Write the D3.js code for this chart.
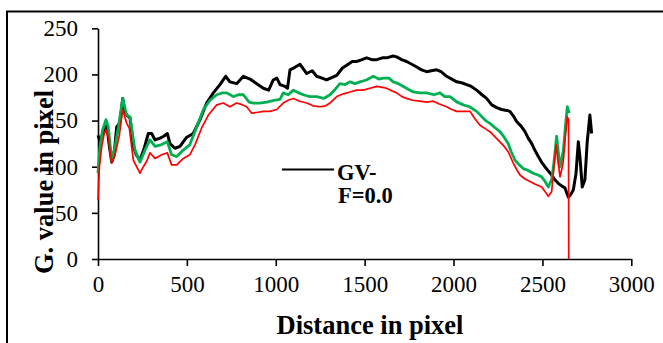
<!DOCTYPE html>
<html><head><meta charset="utf-8">
<script src="https://cdn.jsdelivr.net/npm/d3@7"></script>
<style>body{margin:0;background:#fff}svg{display:block}</style>
</head><body>
<script>
const xTicks = [0,500,1000,1500,2000,2500,3000];
const yTicks = [0,50,100,150,200,250];
const legendLabel = ["GV-","F=0.0"];
const xTitle = "Distance in pixel";
const yTitle = "G. value in pixel";

const blackSeries = [[0,134],[10,128],[21,133],[35,140],[50,145],[62,125],[77,105],[90,112],[105,143],[124,148],[139,174],[150,160],[161,156],[180,153],[199,122],[215,113],[236,107],[260,120],[283,136],[302,136],[321,129],[349,131],[370,133],[390,136],[405,125],[433,120],[461,122],[499,132],[536,136],[574,151],[611,169],[649,180],[686,189],[718,198],[742,192],[780,190],[818,198],[855,195],[893,190],[930,185],[960,183],[986,194],[1006,196],[1024,189],[1052,187],[1066,185],[1080,205],[1110,208],[1137,211],[1174,201],[1205,204],[1230,198],[1260,196],[1286,194],[1343,199],[1375,207],[1399,210],[1430,214],[1455,214],[1485,216],[1511,218],[1540,216],[1568,216],[1600,218],[1624,218],[1660,220],[1680,219],[1708,216],[1736,214],[1765,211],[1793,208],[1820,205],[1849,203],[1875,204],[1905,205],[1930,203],[1961,198],[1990,195],[2018,192],[2045,191],[2074,189],[2100,187],[2130,183],[2160,178],[2186,174],[2215,167],[2243,164],[2270,162],[2300,161],[2317,160],[2340,154],[2355,149],[2380,144],[2402,138],[2420,131],[2440,125],[2460,117],[2477,111],[2495,105],[2514,100],[2535,95],[2552,91],[2570,86],[2589,82],[2610,79],[2627,77],[2640,70],[2646,67],[2660,70],[2674,75],[2689,93],[2702,127],[2711,111],[2724,78],[2739,86],[2752,127],[2767,156],[2777,136]];

const greenSeries = [[0,93],[10,120],[26,140],[45,151],[58,143],[77,107],[96,122],[115,143],[139,174],[161,156],[180,154],[208,118],[236,105],[264,118],[292,129],[321,122],[358,124],[390,127],[414,113],[443,111],[480,118],[517,124],[555,143],[593,162],[630,172],[668,178],[700,180],[724,180],[761,176],[790,178],[818,178],[850,170],[874,169],[910,169],[949,170],[990,172],[1024,173],[1042,180],[1070,178],[1099,183],[1130,180],[1155,178],[1190,176],[1230,176],[1270,174],[1305,178],[1335,184],[1361,190],[1390,189],[1418,192],[1445,190],[1474,192],[1510,194],[1549,198],[1580,195],[1605,196],[1637,196],[1661,192],[1690,190],[1718,187],[1745,184],[1774,181],[1810,180],[1849,180],[1890,178],[1924,180],[1950,176],[1980,176],[2020,170],[2055,167],[2090,165],[2130,160],[2160,154],[2180,150],[2205,147],[2235,142],[2261,138],[2285,132],[2308,125],[2325,116],[2346,107],[2370,102],[2392,98],[2420,96],[2449,93],[2475,91],[2496,89],[2515,84],[2533,78],[2552,86],[2565,105],[2580,133],[2590,115],[2599,100],[2610,110],[2618,118],[2630,145],[2640,165],[2651,158]];

const redSeries = [[0,64],[8,100],[21,122],[35,136],[45,140],[58,132],[77,104],[96,113],[120,134],[139,162],[161,147],[176,142],[199,107],[236,93],[255,100],[274,106],[292,115],[321,109],[358,113],[390,115],[414,102],[443,102],[480,109],[517,113],[546,124],[583,142],[621,156],[668,167],[705,169],[742,165],[780,169],[815,167],[836,165],[865,158],[900,159],[930,160],[967,160],[1005,162],[1042,169],[1070,172],[1099,174],[1135,171],[1174,169],[1210,166],[1249,165],[1280,166],[1305,169],[1343,176],[1380,179],[1418,181],[1455,183],[1493,183],[1530,185],[1568,187],[1600,186],[1624,185],[1655,182],[1680,180],[1710,176],[1736,174],[1770,172],[1811,171],[1850,170],[1886,171],[1920,168],[1961,165],[1990,162],[2018,160],[2055,160],[2093,160],[2120,152],[2149,145],[2180,141],[2205,138],[2235,132],[2261,127],[2285,122],[2308,116],[2322,110],[2336,104],[2355,97],[2374,91],[2400,87],[2430,84],[2460,81],[2496,78],[2515,73],[2533,68],[2552,73],[2565,100],[2577,124],[2588,105],[2599,89],[2610,98],[2618,107],[2630,135],[2640,154],[2647,151],[2648,0]];

const W = 663, H = 343;
const margin = {left: 98, right: 31.7, top: 28.3, bottom: 84};
const svg = d3.select("body").append("svg").attr("width", W).attr("height", H);

// outer frame (extends past the canvas on right and bottom)
svg.append("path").attr("d", `M7,${H+2}V11.5H${W+2}`).attr("fill","none").attr("stroke","#000").attr("stroke-width",2);

const x = d3.scaleLinear().domain([0,3000]).range([margin.left, W - margin.right]);
const y = d3.scaleLinear().domain([0,250]).range([H - margin.bottom, margin.top]);

const font = "'Liberation Serif','Times New Roman',serif";

const xAxis = svg.append("g").attr("transform", `translate(0,${y(0)})`)
  .call(d3.axisBottom(x).tickValues(xTicks).tickSize(7).tickPadding(10).tickSizeOuter(0).tickFormat(d3.format("d")));
const yAxis = svg.append("g").attr("transform", `translate(${x(0)},0)`)
  .call(d3.axisLeft(y).tickValues(yTicks).tickSize(6).tickPadding(14).tickSizeOuter(0).tickFormat(d3.format("d")));
[xAxis, yAxis].forEach(g => {
  g.select(".domain").attr("stroke","#000").attr("stroke-width",1.6);
  g.selectAll(".tick line").attr("stroke","#000").attr("stroke-width",1.6);
  g.selectAll(".tick text").attr("font-family", font).attr("font-size", 23).attr("fill","#000");
});

const line = d3.line().x(d => x(d[0])).y(d => y(d[1]));
const series = [
  {data: blackSeries, color: "#000000", w: 3},
  {data: greenSeries, color: "#00b050", w: 2.8},
  {data: redSeries, color: "#ff0000", w: 1.7}
];
series.forEach(s => {
  svg.append("path").datum(s.data).attr("d", line)
    .attr("fill","none").attr("stroke", s.color).attr("stroke-width", s.w)
    .attr("stroke-linejoin","round");
});

// y-axis title
svg.append("text").attr("transform","translate(53,182) rotate(-90)")
  .attr("text-anchor","middle").attr("font-family",font).attr("font-weight","bold")
  .attr("font-size",26.5).attr("fill","#000").text(yTitle);

// x-axis title
svg.append("text").attr("x",370).attr("y",334).attr("text-anchor","middle")
  .attr("font-family",font).attr("font-weight","bold").attr("font-size",26.5).attr("fill","#000").text(xTitle);

// legend
svg.append("line").attr("x1",282).attr("x2",334).attr("y1",169.5).attr("y2",169.5)
  .attr("stroke","#000").attr("stroke-width",2);
svg.append("text").attr("x",337).attr("y",180).attr("font-family",font).attr("font-weight","bold")
  .attr("font-size",22.5).attr("fill","#000").text(legendLabel[0]);
svg.append("text").attr("x",338).attr("y",203).attr("font-family",font).attr("font-weight","bold")
  .attr("font-size",22.5).attr("fill","#000").text(legendLabel[1]);
</script>
</body></html>
